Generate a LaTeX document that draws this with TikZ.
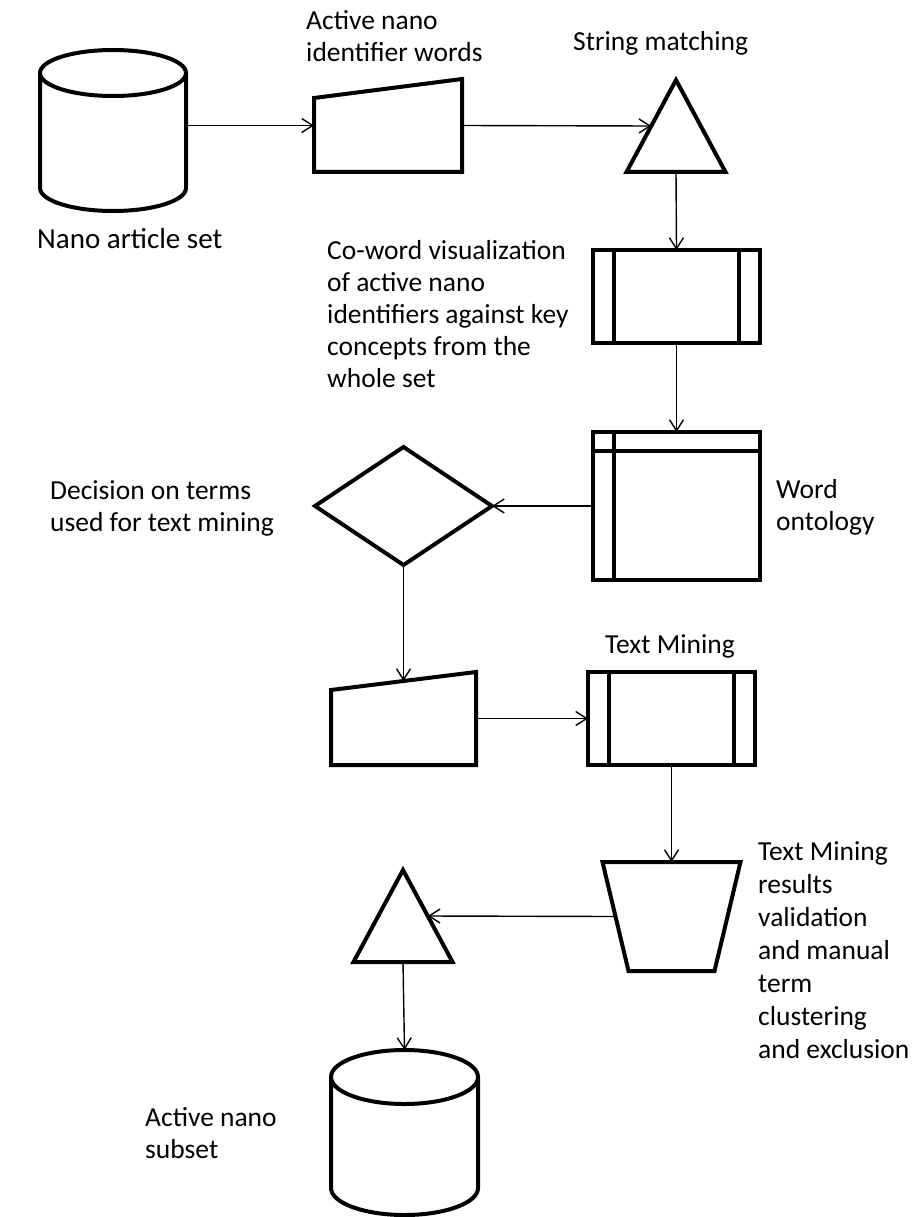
\documentclass[tikz,border=0pt]{standalone}
\usepackage{fontspec}
\setmainfont{Carlito}
\usetikzlibrary{shapes.geometric, arrows.meta}

\tikzset{
  outline/.style = {draw, line width=4pt, inner sep=0pt, outer sep=0pt},
  flow/.style = {line width=1.4pt, -{Straight Barb[length=11pt, width=14pt]}},
  caption/.style = {align=left, inner sep=0pt, anchor=base west, font=\fontsize{27.5}{32}\selectfont},
  slot/.style = {inner sep=0pt, outer sep=0pt, minimum width=#1},
  sorter/.style = {outline, isosceles triangle, shape border rotate=90, isosceles triangle stretches, minimum width=99pt, minimum height=92pt, anchor=apex},
  decision/.style = {outline, diamond, minimum width=177pt, minimum height=118pt},
  process/.style = {outline, rectangle, minimum width=167pt, minimum height=93pt,
    path picture={\draw[line width=4pt]
      ([xshift=21pt]path picture bounding box.north west) -- ([xshift=21pt]path picture bounding box.south west)
      ([xshift=-21pt]path picture bounding box.north east) -- ([xshift=-21pt]path picture bounding box.south east);}},
  storage/.style = {outline, rectangle, minimum width=167pt, minimum height=148pt,
    path picture={\draw[line width=4pt]
      ([xshift=21pt]path picture bounding box.north west) -- ([xshift=21pt]path picture bounding box.south west)
      ([yshift=-19pt]path picture bounding box.north west) -- ([yshift=-19pt]path picture bounding box.north east);}}
}
% manual input: box with a slanted top
\newcommand{\slanttop}[2]{\draw[line width=4pt] (#1.south west) -- ([yshift=-#2]#1.north west) -- (#1.north east) -- (#1.south east) -- cycle;}
% manual operation: box narrowing downwards
\newcommand{\taper}[2]{\draw[line width=4pt] (#1.north west) -- (#1.north east) -- ([xshift=-#2]#1.south east) -- ([xshift=#2]#1.south west) -- cycle;}
% database drum: node, x radius, y radius
\newcommand{\drum}[3]{\draw[line width=4pt] ([yshift=-#3]#1.north west) -- ([yshift=#3]#1.south west)
  arc[start angle=180, end angle=360, x radius=#2, y radius=#3] -- ([yshift=-#3]#1.north east)
  arc[start angle=0, end angle=360, x radius=#2, y radius=#3];}

\begin{document}
\begin{tikzpicture}[x=1pt, y=-1pt]
        \useasboundingbox (0,0) rectangle (919,1217);

        % shapes
        \node[slot=146pt, minimum height=161pt] (db1) at (113,130.5) {};
        \drum{db1}{73pt}{23pt}
        \node[slot=148pt, minimum height=93pt] (words) at (388,125.5) {};
        \slanttop{words}{19pt}
        \node[sorter] (match) at (676,80) {};
        \node[process] (coword) at (676.5,296.5) {};
        \node[storage] (onto) at (676.5,506) {};
        \node[decision] (decide) at (403.5,506) {};
        \node[slot=145pt, minimum height=93pt] (terms) at (403.5,718.5) {};
        \slanttop{terms}{18pt}
        \node[process] (mining) at (671.5,718.5) {};
        \node[slot=138pt, minimum height=109pt] (check) at (671.5,916.5) {};
        \taper{check}{26pt}
        \node[sorter] (subsel) at (403,870) {};
        \node[slot=147pt, minimum height=165pt] (db2) at (404.5,1132.5) {};
        \drum{db2}{73.5pt}{27pt}

        % labels (anchored at the baseline of the last line)
        \node[caption, font=\fontsize{29}{32}\selectfont] (l-db1) at (37,248) {Nano article set};
        \node[caption] (l-words) at (306,62) {Active nano\\identifier words};
        \node[caption] (l-match) at (573,51) {String matching};
        \node[caption] (l-coword) at (327,387) {Co-word visualization\\of active nano\\identifiers against key\\concepts from the\\whole set};
        \node[caption] (l-onto) at (776,530) {Word\\ontology};
        \node[caption] (l-decide) at (50,531) {Decision on terms\\used for text mining};
        \node[caption] (l-mining) at (605,653) {Text Mining};
        \node[caption, font=\fontsize{27.5}{33}\selectfont] (l-check) at (758,1058) {Text Mining\\results\\validation\\and manual\\term\\clustering\\and exclusion};
        \node[caption] (l-db2) at (145,1158) {Active nano\\subset};

        % connectors
        \draw[flow] (words.west -| db1.east) -- (words.west);
        \draw[flow] (words.east) -- (match.left side);
        \draw[flow] (match.lower side) -- (coword.north);
        \draw[flow] (coword.south) -- (onto.north);
        \draw[flow] (onto.west) -- (decide.east);
        \draw[flow] (decide.south) -- ([yshift=-9pt]terms.north);
        \draw[flow] (terms.east) -- (mining.west);
        \draw[flow] (mining.south) -- (check.north);
        \draw[flow] ([xshift=13pt]check.west) -- (subsel.right side);
        \draw[flow] (subsel.lower side) -- (db2.north);
\end{tikzpicture}
\end{document}
